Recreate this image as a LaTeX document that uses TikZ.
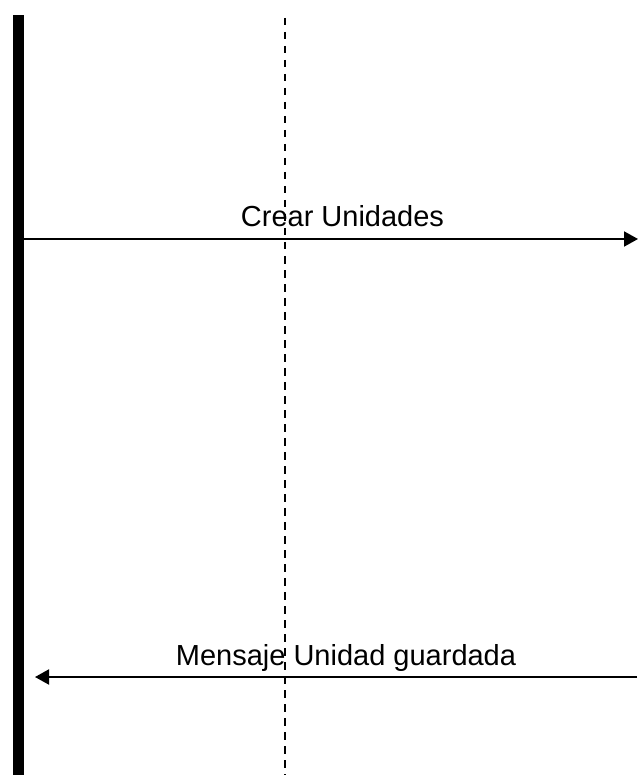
\documentclass[tikz,border=0pt]{standalone}
\usepackage{fontspec}
\setmainfont{Liberation Sans}
\usetikzlibrary{arrows.meta,positioning}

\begin{document}
\begin{tikzpicture}[x=1pt,y=-1pt,
  every node/.style={font=\fontsize{29}{34}\selectfont,inner sep=0pt},
  actorbar/.style={fill=black,draw=none},
  lifeline/.style={dashed,line width=2pt,dash pattern=on 7.5pt off 6.5pt},
  msg/.style={-{Triangle[length=14pt,width=15pt]},line width=2pt},
  msglabel/.style={anchor=base}
]
  \useasboundingbox (0,0) rectangle (638,775);

  % actor and lifeline
  \fill[actorbar] (13,15) rectangle (24,775);
  \coordinate (lifetop) at (285,18);
  \coordinate (lifebot) at (285,775);
  \draw[lifeline] (lifetop) -- (lifebot);

  % message ends
  \coordinate (crearA) at (24,239);
  \coordinate (crearB) at (638,239);
  \coordinate (guardA) at (637,677);
  \coordinate (guardB) at (35,677);

  \draw[msg] (crearA) -- (crearB);
  \node[msglabel] (crear) at (342.5,227) {Crear Unidades};

  \draw[msg] (guardA) -- (guardB);
  \node[msglabel] (guard) at (346,665) {Mensaje Unidad guardada};
\end{tikzpicture}
\end{document}
